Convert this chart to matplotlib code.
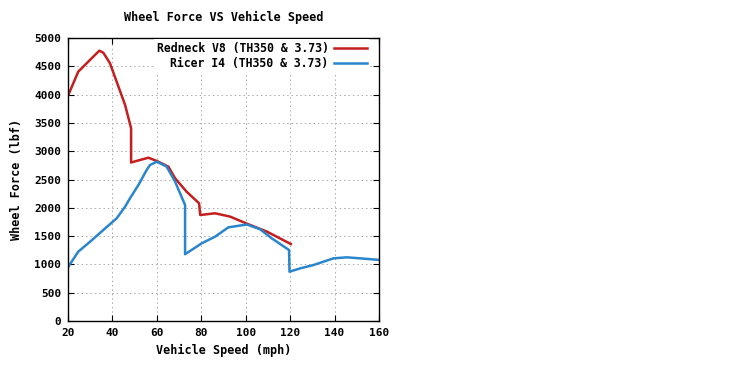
import matplotlib
matplotlib.use("Agg")
import matplotlib.pyplot as plt
from matplotlib.ticker import MultipleLocator

# ── datos ────────────────────────────────────────────────────────────────
v8_speed = [20, 24.6, 29.1, 34.1, 35.9, 38.9, 41.9, 45.7, 48.4, 48.4, 52.4,
            56.2, 60.0, 65.2, 68.2, 73.4, 79.0, 79.5, 86.2, 93.0, 100.5,
            109.5, 120.3]
v8_force = [3980, 4405, 4581, 4776, 4740, 4553, 4228, 3816, 3405, 2800, 2845,
            2885, 2827, 2726, 2521, 2284, 2080, 1873, 1903, 1844, 1720,
            1580, 1360]

i4_speed = [20, 24.6, 29.9, 35.9, 41.9, 45.7, 47.9, 51.7, 55.4, 56.9, 60.0,
            64.4, 68.2, 72.7, 72.7, 80.2, 86.2, 92.2, 100.5, 106.5, 111.7,
            119.5, 119.7, 124.5, 130.5, 139.5, 145.5, 151.5, 160.5]
i4_force = [950, 1225, 1400, 1608, 1814, 2020, 2168, 2403, 2668, 2756, 2815,
            2727, 2462, 2049, 1180, 1373, 1490, 1655, 1705, 1620, 1461,
            1254, 871, 930, 989, 1107, 1125, 1107, 1078]

C_V8 = "#c41e1e"
C_I4 = "#2a86cc"
FONT = "DejaVu Sans Mono"

fig = plt.figure(figsize=(7.4, 3.74), dpi=100, facecolor="white")
ax = fig.add_axes([0.0919, 0.1417, 0.4203, 0.7567])

ax.plot(v8_speed, v8_force, color=C_V8, lw=1.8, label="Redneck V8 (TH350 & 3.73)")
ax.plot(i4_speed, i4_force, color=C_I4, lw=1.8, label="Ricer I4 (TH350 & 3.73)")

ax.set_xlim(20, 160)
ax.set_ylim(0, 5000)
ax.xaxis.set_major_locator(MultipleLocator(20))
ax.yaxis.set_major_locator(MultipleLocator(500))
ax.grid(True, color="#aaaaaa", linestyle=(0, (1.5, 3)), linewidth=0.7)
ax.tick_params(direction="in", top=True, right=True, length=4, width=0.8,
               labelsize=8, pad=5)
for lbl in ax.get_xticklabels() + ax.get_yticklabels():
    lbl.set_fontfamily(FONT)
    lbl.set_fontweight("bold")
for s in ax.spines.values():
    s.set_linewidth(1.0)
    s.set_color("black")

ax.set_title("Wheel Force VS Vehicle Speed", fontfamily=FONT,
             fontweight="bold", fontsize=8.5, pad=12)
ax.set_xlabel("Vehicle Speed (mph)", fontfamily=FONT, fontweight="bold",
              fontsize=8.5, labelpad=4)
ax.set_ylabel("Wheel Force (lbf)", fontfamily=FONT, fontweight="bold",
              fontsize=8.5, labelpad=8)

leg = ax.legend(loc="upper right", bbox_to_anchor=(0.969, 0.995),
                frameon=True, facecolor="white", edgecolor="none",
                framealpha=1.0, fancybox=False, markerfirst=False,
                prop={"family": FONT, "weight": "bold", "size": 8.3},
                handlelength=2.9, handletextpad=0.45, borderaxespad=0.0,
                borderpad=0.2, labelspacing=0.2)
for t in leg.get_texts():
    t.set_ha("right")

fig.savefig("out.png", dpi=100, facecolor="white")
